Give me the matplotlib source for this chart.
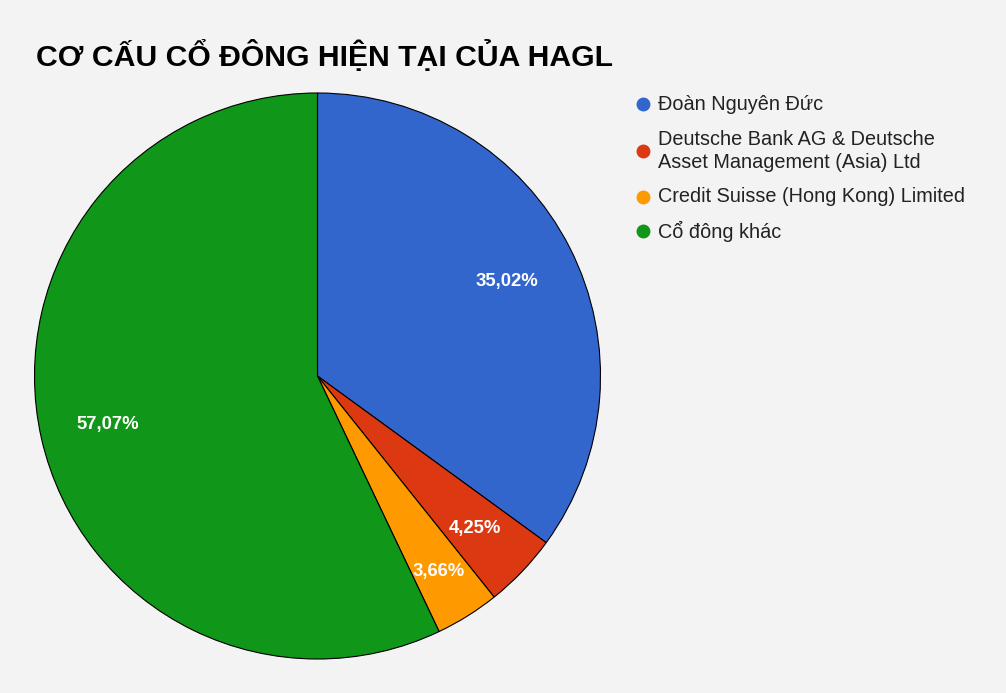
import matplotlib
matplotlib.use("Agg")
import numpy as np
import matplotlib.pyplot as plt
from matplotlib.lines import Line2D

labels = ["Đoàn Nguyên Đức",
          "Deutsche Bank AG & Deutsche\nAsset Management (Asia) Ltd",
          "Credit Suisse (Hong Kong) Limited",
          "Cổ đông khác"]
values = [35.02, 4.25, 3.66, 57.07]
colors = ["#3366cc", "#dc3912", "#ff9900", "#109618"]
title = "CƠ CẤU CỔ ĐÔNG HIỆN TẠI CỦA HAGL"

W, H = 1006, 693
bg = "#f3f3f3"
plt.rcParams['font.family'] = ['Liberation Sans', 'DejaVu Sans']

fig = plt.figure(figsize=(W/100, H/100), dpi=100, facecolor=bg)
ax = fig.add_axes([0, 0, 1, 1])
ax.axis('off')

def fmt(p):
    return f"{p:.2f}".replace('.', ',') + "%"

cx, cy, R = 317.5, H - 376, 283
wedges, texts, autotexts = ax.pie(
    values, colors=colors, startangle=90, counterclock=False,
    center=(cx, cy), radius=R, autopct=fmt, pctdistance=0.75,
    wedgeprops=dict(edgecolor="black", linewidth=0.8),
    textprops=dict(color="white", fontsize=13.3, fontweight="bold"))
ax.set_xlim(0, W)
ax.set_ylim(0, H)
ax.set_aspect('auto')

# per-slice label distance (fraction of radius)
label_dist = [0.75, 0.77, 0.81, 0.76]
for w, t, d in zip(wedges, autotexts, label_dist):
    ang = np.deg2rad((w.theta1 + w.theta2) / 2)
    t.set_position((cx + d * R * np.cos(ang), cy + d * R * np.sin(ang) - 1.5))

fig.text(36/W, 1 - 66/H, title, fontsize=21.7, fontweight="bold",
         color="black", va="baseline", ha="left")

ys = [104, 151, 197, 231]
for lab, c, y in zip(labels, colors, ys):
    fig.add_artist(Line2D([643/W], [1 - y/H], marker='o', markersize=9,
                          color=c, linestyle='none', transform=fig.transFigure))
    fig.text(658/W, 1 - y/H, lab, fontsize=14.3, color="#222222",
             va="center", ha="left", linespacing=1.28)

fig.savefig("out.png", dpi=100, facecolor=bg)
